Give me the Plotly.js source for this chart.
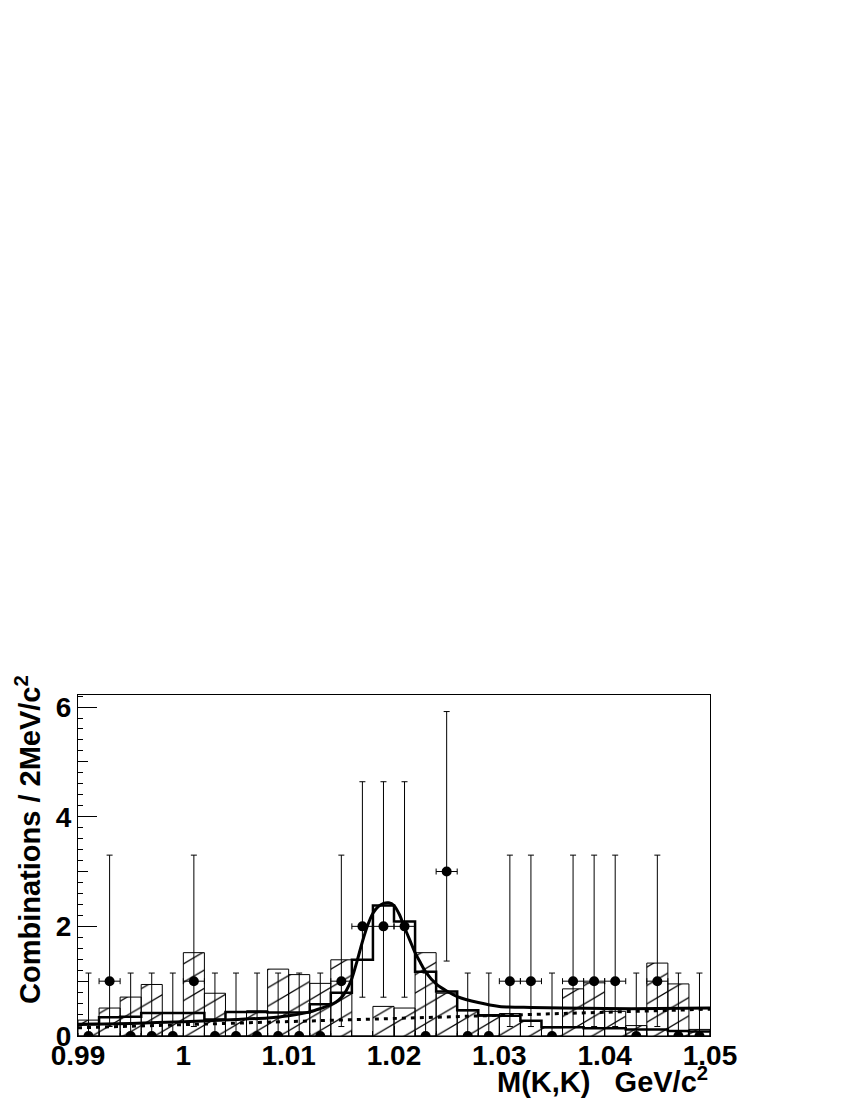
<!DOCTYPE html>
<html>
<head>
<meta charset="utf-8">
<script src="https://cdn.plot.ly/plotly-3.0.1.min.js"></script>
<style>body{margin:0;background:#fff}</style>
</head>
<body>
<div id="plot" style="width:850px;height:1100px"></div>
<script>
// 2 MeV bins from 0.990 to 1.050
var binCenters = [0.991,0.993,0.995,0.997,0.999,1.001,1.003,1.005,1.007,1.009,
                  1.011,1.013,1.015,1.017,1.019,1.021,1.023,1.025,1.027,1.029,
                  1.031,1.033,1.035,1.037,1.039,1.041,1.043,1.045,1.047,1.049];
var binEdges = [0.990,0.992,0.994,0.996,0.998,1.000,1.002,1.004,1.006,1.008,1.010,
                1.012,1.014,1.016,1.018,1.020,1.022,1.024,1.026,1.028,1.030,
                1.032,1.034,1.036,1.038,1.040,1.042,1.044,1.046,1.048,1.050];

// data (combinations per bin)
var dataCounts = [0,1,0,0,0,1,0,0,0,0,0,0,1,2,2,2,0,3,0,0,1,1,0,1,1,1,0,1,0,0];
// poisson intervals, indexed by count
var poissonUp   = [1.148, 2.299, 2.638, 2.918];
var poissonDown = [0, 0.827, 1.292, 1.633];

// hatched histogram
var hatchedHist = [0.29,0.51,0.71,0.94,0.41,1.52,0.78,0.44,0.46,1.22,
                   1.12,0.96,1.39,0.00,0.54,0.51,1.52,0.78,0.46,0.36,
                   0.41,0.28,0.15,0.86,0.97,0.45,0.19,1.33,0.95,0.12];
// thick-line histogram
var lineHist = [0.22,0.34,0.35,0.42,0.42,0.42,0.30,0.44,0.44,0.43,
                0.43,0.58,0.79,1.39,2.38,2.09,1.17,0.81,0.47,0.38,
                0.37,0.28,0.16,0.16,0.14,0.14,0.12,0.12,0.09,0.08];

// fit curve
var fitX = [0.990,0.995,1.000,1.005,1.008,1.010,1.012,1.013,1.014,1.0145,1.015,1.0155,
            1.016,1.0165,1.017,1.0175,1.018,1.0185,1.019,1.0195,1.020,1.0205,1.021,
            1.0215,1.022,1.0225,1.023,1.024,1.025,1.026,1.028,1.030,1.033,1.036,
            1.040,1.045,1.050];
var fitY = [0.21,0.23,0.26,0.30,0.33,0.37,0.44,0.50,0.57,0.62,0.70,0.84,
            1.05,1.37,1.72,2.02,2.24,2.36,2.42,2.43,2.38,2.22,1.98,
            1.75,1.52,1.34,1.17,0.95,0.82,0.72,0.61,0.54,0.52,0.51,
            0.50,0.50,0.51];
// background part of the fit
var bgX = [0.990, 1.050];
var bgY = [0.15, 0.49];

var xTickVals = [0.99,1.00,1.01,1.02,1.03,1.04,1.05];
var xTickText = ['0.99','1','1.01','1.02','1.03','1.04','1.05'];

var fnt = 'Liberation Sans, Arial, Helvetica, sans-serif';

var stepX = binEdges.slice();
var stepY = lineHist.concat([lineHist[lineHist.length-1]]);

var traces = [
  {
    type: 'bar', x: binCenters, y: hatchedHist, width: 0.002,
    marker: {
      color: 'rgba(0,0,0,0)',
      line: {color: 'black', width: 1},
      pattern: {shape: '/', fgcolor: 'black', bgcolor: 'rgba(0,0,0,0)', size: 13, solidity: 0.08, fillmode: 'replace'}
    },
    hoverinfo: 'skip'
  },
  {
    type: 'scatter', mode: 'lines', x: stepX, y: stepY,
    line: {color: 'black', width: 2.5, shape: 'hv'}, hoverinfo: 'skip'
  },
  {
    type: 'scatter', mode: 'lines', x: bgX, y: bgY, yaxis: 'y2',
    line: {color: 'black', width: 3, dash: '4px,5px'}, hoverinfo: 'skip'
  },
  {
    type: 'scatter', mode: 'lines', x: fitX, y: fitY, xaxis: 'x2',
    line: {color: 'black', width: 3, shape: 'spline', smoothing: 0.8}, hoverinfo: 'skip'
  },
  {
    type: 'scatter', mode: 'markers', x: binCenters, y: dataCounts,
    marker: {color: 'black', size: 10},
    error_y: {type: 'data', symmetric: false,
      array: dataCounts.map(function(c){ return poissonUp[c]; }),
      arrayminus: dataCounts.map(function(c){ return poissonDown[c]; }),
      color: 'black', thickness: 1, width: 3},
    error_x: {type: 'constant', value: 0.001, color: 'black', thickness: 1, width: 3},
    hoverinfo: 'skip'
  }
];

var layout = {
  width: 850, height: 1100,
  margin: {l: 78, r: 140, t: 695, b: 64},
  paper_bgcolor: 'white', plot_bgcolor: 'white',
  showlegend: false, bargap: 0,
  font: {family: fnt, color: 'black'},
  xaxis: {
    range: [0.99, 1.05], tickmode: 'linear', tick0: 0.99, dtick: 0.01,
    ticks: 'inside', ticklen: 10, tickwidth: 1, tickcolor: 'black',
    showticklabels: false, showgrid: false, zeroline: false,
    showline: true, mirror: true, linecolor: 'black', linewidth: 1,
    minor: {dtick: 0.002, ticks: 'inside', ticklen: 5, tickwidth: 1, tickcolor: 'black', showgrid: false}
  },
  xaxis2: {
    overlaying: 'x', anchor: 'y', side: 'bottom',
    range: [0.99, 1.05], tickmode: 'array', tickvals: xTickVals, ticktext: xTickText,
    ticks: '', showgrid: false, zeroline: false, showline: false,
    tickfont: {family: fnt, size: 28, weight: 'bold', color: 'black'}
  },
  yaxis: {
    range: [0, 6.22], tickmode: 'linear', tick0: 0, dtick: 2,
    ticks: 'inside', ticklen: 19, tickwidth: 1, tickcolor: 'black',
    showgrid: false, zeroline: false,
    showline: true, mirror: true, linecolor: 'black', linewidth: 1,
    tickfont: {family: fnt, size: 28, weight: 'bold', color: 'black'},
    minor: {dtick: 0.2, ticks: 'inside', ticklen: 5, tickwidth: 1, tickcolor: 'black', showgrid: false}
  },
  yaxis2: {
    overlaying: 'y', anchor: 'x', side: 'left',
    range: [0, 6.22], tickmode: 'linear', tick0: 1, dtick: 2,
    ticks: 'inside', ticklen: 10, tickwidth: 1, tickcolor: 'black',
    showticklabels: false, showgrid: false, zeroline: false, showline: false
  },
  annotations: [
    {
      xref: 'paper', yref: 'paper', x: -0.079, y: 0.575,
      xanchor: 'center', yanchor: 'middle', textangle: -90, showarrow: false,
      text: 'Combinations / 2MeV/c<sup>2</sup>',
      font: {family: fnt, size: 29, weight: 'bold', color: 'black'}
    },
    {
      xref: 'paper', yref: 'paper', x: 1.0, y: -0.129,
      xanchor: 'right', yanchor: 'middle', showarrow: false,
      text: 'M(K,K)\u00a0\u00a0 GeV/c<sup>2</sup>',
      font: {family: fnt, size: 29, weight: 'bold', color: 'black'}
    }
  ]
};

Plotly.newPlot('plot', traces, layout, {staticPlot: true}).then(function (gd) {
  // flatten the hatching a bit, like the original
  gd.querySelectorAll('pattern').forEach(function (p) {
    p.setAttribute('patternTransform', 'scale(1.7,1)');
  });
});
</script>
</body>
</html>
